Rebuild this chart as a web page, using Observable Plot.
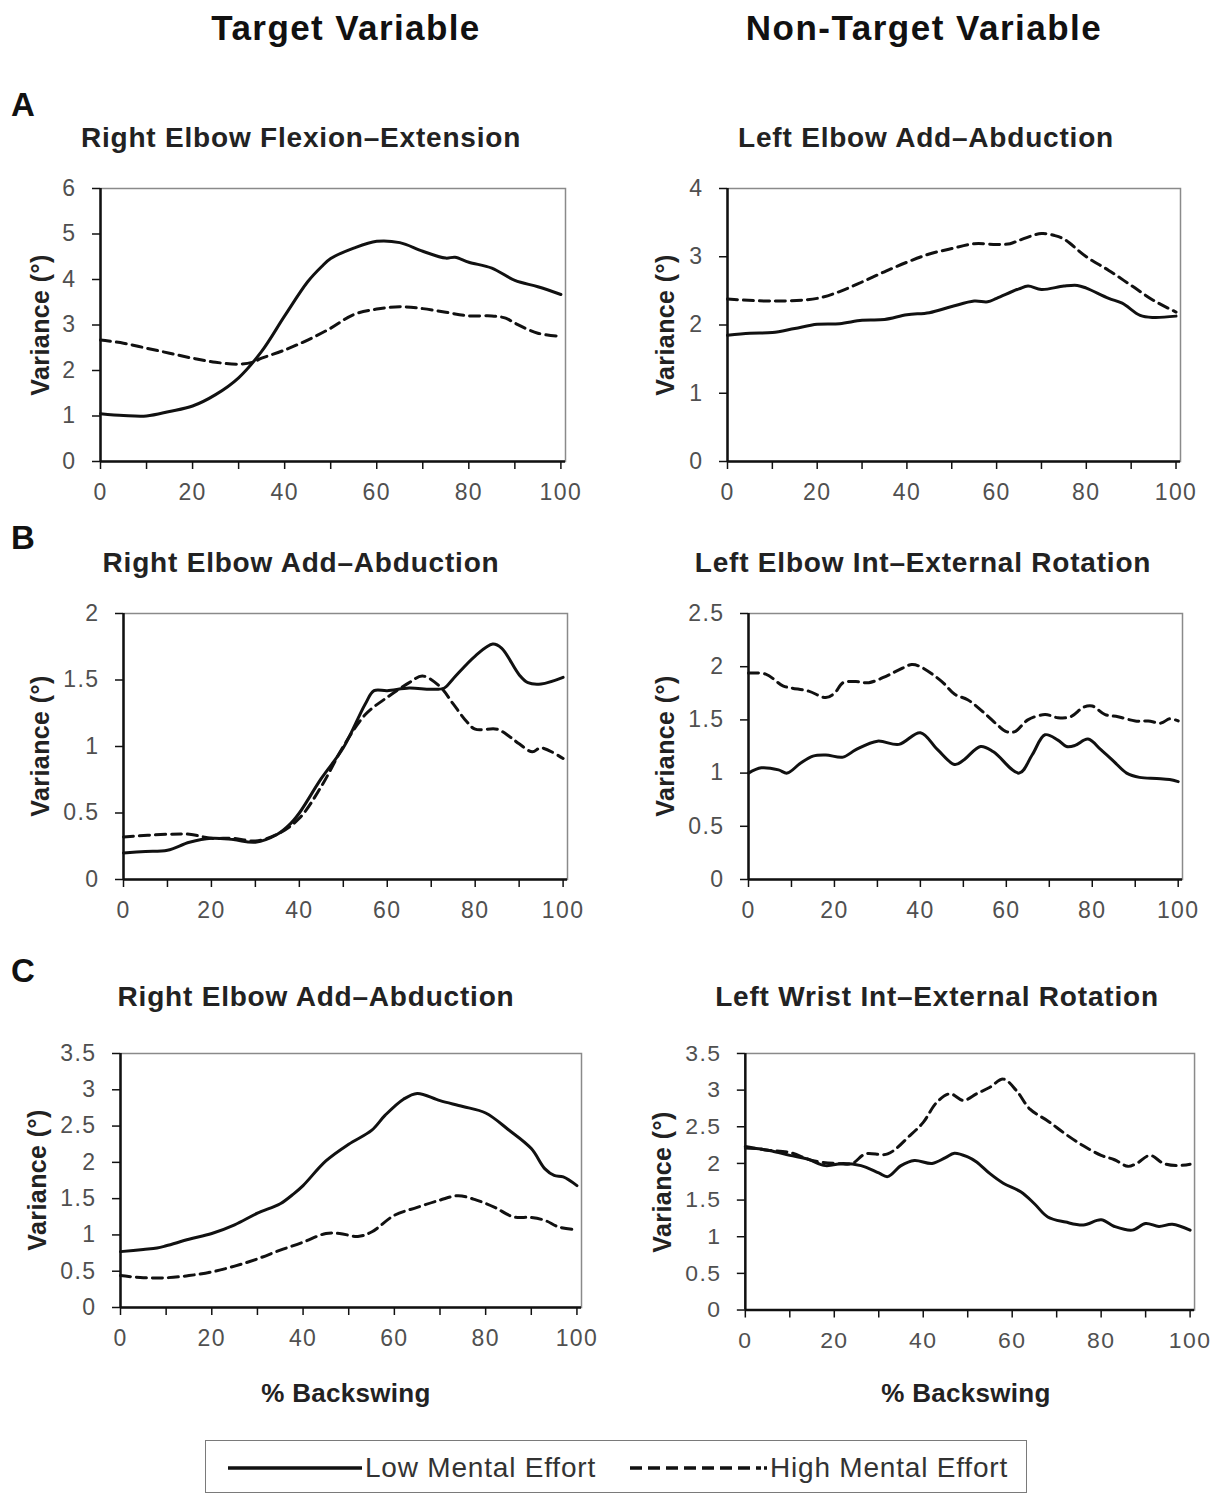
<!DOCTYPE html>
<html>
<head>
<meta charset="utf-8">
<script src="https://cdn.jsdelivr.net/npm/d3@7"></script>
<script src="https://cdn.jsdelivr.net/npm/@observablehq/plot@0.6"></script>
<style>
  html, body { margin: 0; padding: 0; background: #fff; }
  #root { position: relative; width: 1224px; height: 1494px; overflow: hidden; font-family: "Liberation Sans", Arial, sans-serif; color: #222; }
  .t { position: absolute; white-space: nowrap; line-height: 1; }
  .c { transform: translate(-50%, -50%); }
  .l { transform: translate(0, -50%); }
  .b { font-weight: bold; }
  .panel { position: absolute; }
</style>
</head>
<body>
<div id="root"></div>
<script>
// ---------- data ----------
// Panel A, Target: Right Elbow Flexion–Extension
const xA1low  = [0,5,10,15,20,25,30,35,40,45,48,50,55,60,65,70,75,77,80,85,90,95,100];
const yA1low  = [1.05,1.01,1.0,1.1,1.22,1.47,1.84,2.42,3.2,3.95,4.28,4.46,4.69,4.84,4.81,4.62,4.47,4.49,4.38,4.25,3.98,3.84,3.67];
const xA1high = [0,5,10,15,20,25,30,33,35,40,45,50,55,60,65,70,75,80,85,88,90,95,100];
const yA1high = [2.67,2.6,2.49,2.38,2.27,2.18,2.14,2.18,2.27,2.45,2.67,2.93,3.23,3.35,3.4,3.36,3.28,3.2,3.2,3.15,3.04,2.82,2.75];
// Panel A, Non-target: Left Elbow Add–Abduction
const xA2low  = [0,5,10,15,20,25,30,35,40,45,50,55,58,60,65,67,70,75,78,80,85,88,92,95,100];
const yA2low  = [1.85,1.88,1.89,1.95,2.01,2.02,2.07,2.08,2.15,2.18,2.27,2.35,2.34,2.39,2.53,2.57,2.52,2.57,2.58,2.54,2.39,2.32,2.14,2.11,2.13];
const xA2high = [0,10,20,25,30,35,40,45,50,55,60,63,65,70,73,75,80,85,90,95,100];
const yA2high = [2.38,2.35,2.39,2.49,2.63,2.78,2.92,3.04,3.12,3.19,3.18,3.19,3.24,3.34,3.31,3.26,3.0,2.8,2.58,2.36,2.19];
// Panel B, Target: Right Elbow Add–Abduction
const xB1low  = [0,5,10,15,20,25,30,35,38,40,45,50,55,57,60,65,70,73,75,80,84,86,90,92,95,100];
const yB1low  = [0.2,0.21,0.22,0.28,0.31,0.3,0.28,0.34,0.42,0.5,0.76,0.99,1.32,1.42,1.42,1.44,1.43,1.44,1.51,1.68,1.77,1.74,1.54,1.48,1.47,1.52];
const xB1high = [0,10,15,20,25,30,35,40,45,50,55,60,65,68,72,75,78,80,85,88,90,93,95,100];
const yB1high = [0.32,0.34,0.34,0.31,0.31,0.29,0.34,0.46,0.7,1.0,1.24,1.37,1.48,1.53,1.45,1.32,1.19,1.13,1.13,1.07,1.02,0.96,0.99,0.91];
// Panel B, Non-target: Left Elbow Int–External Rotation
const xB2low  = [0,3,7,9,12,15,18,22,25,30,35,40,44,48,50,54,57,63,66,69,72,74,76,79,82,85,88,91,95,98,100];
const yB2low  = [1.0,1.05,1.03,1.0,1.09,1.16,1.17,1.15,1.22,1.3,1.27,1.38,1.22,1.08,1.12,1.25,1.2,1.0,1.17,1.36,1.31,1.25,1.26,1.32,1.22,1.11,1.0,0.96,0.95,0.94,0.92];
const xB2high = [0,4,8,10,14,18,20,22,25,28,32,35,38,40,45,48,51,55,58,60,62,65,69,72,75,78,80,83,86,90,93,96,98,100];
const yB2high = [1.94,1.93,1.82,1.8,1.77,1.71,1.75,1.85,1.86,1.85,1.91,1.97,2.02,2.0,1.86,1.74,1.69,1.56,1.45,1.39,1.39,1.5,1.55,1.52,1.53,1.62,1.63,1.55,1.53,1.49,1.49,1.47,1.51,1.49];
// Panel C, Target: Right Elbow Add–Abduction
const xC1low  = [0,5,8,10,15,20,25,30,35,38,40,45,50,55,58,62,65,70,75,80,85,90,93,95,97,100];
const yC1low  = [0.77,0.8,0.82,0.85,0.94,1.02,1.14,1.3,1.43,1.57,1.68,2.02,2.25,2.44,2.65,2.87,2.95,2.85,2.77,2.68,2.45,2.19,1.91,1.82,1.8,1.68];
const xC1high = [0,5,10,15,20,25,30,35,40,45,48,52,55,60,65,70,74,78,82,86,90,93,96,100];
const yC1high = [0.44,0.41,0.41,0.44,0.49,0.57,0.67,0.79,0.9,1.02,1.02,0.98,1.04,1.27,1.38,1.48,1.54,1.48,1.38,1.25,1.24,1.2,1.11,1.07];
// Panel C, Non-target: Left Wrist Int–External Rotation
const xC2low  = [0,3,6,10,14,18,22,26,30,32,35,38,42,45,47,50,52,55,58,62,65,68,72,76,80,83,87,90,93,96,100];
const yC2low  = [2.21,2.2,2.17,2.11,2.06,1.97,2.0,1.97,1.87,1.82,1.97,2.04,2.0,2.08,2.14,2.09,2.02,1.86,1.73,1.61,1.45,1.27,1.2,1.16,1.23,1.14,1.09,1.18,1.14,1.17,1.09];
const xC2high = [0,5,10,15,20,24,27,32,37,40,43,46,49,52,55,58,61,64,68,72,76,80,83,86,88,91,94,97,100];
const yC2high = [2.23,2.18,2.15,2.04,2.0,2.0,2.13,2.13,2.38,2.56,2.83,2.95,2.86,2.95,3.04,3.15,2.99,2.74,2.58,2.4,2.24,2.11,2.05,1.96,2.0,2.11,2.0,1.97,1.99];

const columnTitles = ["Target Variable", "Non-Target Variable"];
const rowLetters = ["A", "B", "C"];
const panelTitles = ["Right Elbow Flexion–Extension", "Left Elbow Add–Abduction",
                     "Right Elbow Add–Abduction", "Left Elbow Int–External Rotation",
                     "Right Elbow Add–Abduction", "Left Wrist Int–External Rotation"];
const yTicksA1 = [0,1,2,3,4,5,6];
const yTicksA2 = [0,1,2,3,4];
const yTicksB1 = [0,0.5,1,1.5,2];
const yTicksB2 = [0,0.5,1,1.5,2,2.5];
const yTicksC  = [0,0.5,1,1.5,2,2.5,3,3.5];
const xTicks = [0,10,20,30,40,50,60,70,80,90,100];
const yLabel = "Variance (°)";
const xLabel = "% Backswing";
const seriesNames = ["Low Mental Effort", "High Mental Effort"];

// ---------- layout ----------
const FONT = '"Liberation Sans", Arial, sans-serif';
const root = document.getElementById("root");
function text(str, x, y, size, cls, extra) {
  const d = document.createElement("div");
  d.className = "t " + cls;
  d.textContent = str;
  d.style.left = x + "px"; d.style.top = y + "px"; d.style.fontSize = size + "px";
  if (extra) Object.assign(d.style, extra);
  root.appendChild(d);
  return d;
}
const pts = (xs, ys) => xs.map((x, i) => ({x, y: ys[i]}));

const panels = [
  {low: pts(xA1low, yA1low), high: pts(xA1high, yA1high), yt: yTicksA1, x0: 100, x1: 565, top: 188, bottom: 461, title: panelTitles[0], tx: 301, ty: 138, lx: 40},
  {low: pts(xA2low, yA2low), high: pts(xA2high, yA2high), yt: yTicksA2, x0: 727, x1: 1180, top: 188, bottom: 461, title: panelTitles[1], tx: 926, ty: 138, lx: 665},
  {low: pts(xB1low, yB1low), high: pts(xB1high, yB1high), yt: yTicksB1, x0: 123, x1: 567, top: 613, bottom: 879, title: panelTitles[2], tx: 301, ty: 563, lx: 40},
  {low: pts(xB2low, yB2low), high: pts(xB2high, yB2high), yt: yTicksB2, x0: 748, x1: 1182, top: 613, bottom: 879, title: panelTitles[3], tx: 923, ty: 563, lx: 665},
  {low: pts(xC1low, yC1low), high: pts(xC1high, yC1high), yt: yTicksC, x0: 120, x1: 581, top: 1053, bottom: 1307, title: panelTitles[4], tx: 316, ty: 997, lx: 37},
  {low: pts(xC2low, yC2low), high: pts(xC2high, yC2high), yt: yTicksC, x0: 745, x1: 1195, top: 1053, bottom: 1310, title: panelTitles[5], tx: 937, ty: 997, lx: 662}
];

const mL = 100, mR = 30, mT = 15, mB = 50;
panels.forEach(p => {
  const ymax = p.yt[p.yt.length - 1];
  const chart = Plot.plot({
    width: p.x1 - p.x0 + mL + mR,
    height: p.bottom - p.top + mT + mB,
    marginLeft: mL, marginRight: mR, marginTop: mT, marginBottom: mB,
    style: {fontFamily: FONT, fontSize: "23px", letterSpacing: "1.4px", background: "transparent", overflow: "visible", color: "#505050"},
    x: {domain: [0, 101]},
    y: {domain: [0, ymax]},
    marks: [
      Plot.frame({stroke: "#8a8a8a", strokeWidth: 1.5}),
      Plot.axisX({ticks: xTicks, tickFormat: d => d % 20 === 0 ? String(d) : "", tickSize: 8, tickPadding: 14, stroke: "#111", strokeWidth: 1.5, color: "#505050", label: null}),
      Plot.axisY({ticks: p.yt, tickFormat: d => String(d), tickSize: 8, tickPadding: 16, stroke: "#111", strokeWidth: 1.5, color: "#505050", label: null}),
      Plot.ruleX([0], {stroke: "#111", strokeWidth: 2.5}),
      Plot.ruleY([0], {stroke: "#111", strokeWidth: 2.5}),
      Plot.line(p.high, {x: "x", y: "y", stroke: "#111", strokeWidth: 3, strokeDasharray: "10,6", curve: "catmull-rom"}),
      Plot.line(p.low, {x: "x", y: "y", stroke: "#111", strokeWidth: 3, curve: "catmull-rom"})
    ]
  });
  const wrap = document.createElement("div");
  wrap.className = "panel";
  wrap.style.left = (p.x0 - mL) + "px";
  wrap.style.top = (p.top - mT) + "px";
  wrap.appendChild(chart);
  root.appendChild(wrap);

  text(p.title, p.tx, p.ty, 28, "c b", {color: "#222", letterSpacing: "0.8px"});
  text(yLabel, p.lx, (p.top + p.bottom) / 2, 25, "c b", {transform: "translate(-50%, -50%) rotate(-90deg)", color: "#222", letterSpacing: "0.4px"});
});

// column headers, row letters
text(columnTitles[0], 346, 27, 35, "c b", {color: "#111", letterSpacing: "1.4px"});
text(columnTitles[1], 924, 27, 35, "c b", {color: "#111", letterSpacing: "1.5px"});
text(rowLetters[0], 11, 104, 33, "l b", {color: "#111"});
text(rowLetters[1], 11, 537, 33, "l b", {color: "#111"});
text(rowLetters[2], 11, 970, 33, "l b", {color: "#111"});
// x-axis titles
text(xLabel, 346, 1393, 26, "c b", {color: "#222", letterSpacing: "0.3px"});
text(xLabel, 966, 1393, 26, "c b", {color: "#222", letterSpacing: "0.3px"});

// legend
const box = document.createElement("div");
Object.assign(box.style, {position: "absolute", left: "205px", top: "1440px", width: "822px", height: "53px", border: "1.5px solid #7a7a7a", boxSizing: "border-box"});
root.appendChild(box);
const svgNS = "http://www.w3.org/2000/svg";
const lg = document.createElementNS(svgNS, "svg");
lg.setAttribute("width", 1224); lg.setAttribute("height", 1494);
Object.assign(lg.style, {position: "absolute", left: "0", top: "0", pointerEvents: "none"});
function seg(x1, x2, y, dash) {
  const l = document.createElementNS(svgNS, "line");
  l.setAttribute("x1", x1); l.setAttribute("x2", x2); l.setAttribute("y1", y); l.setAttribute("y2", y);
  l.setAttribute("stroke", "#111"); l.setAttribute("stroke-width", 3.5);
  if (dash) l.setAttribute("stroke-dasharray", dash);
  lg.appendChild(l);
}
seg(228, 362, 1468, null);
seg(630, 761, 1468, "12,6");
seg(764, 767, 1468, null);
root.appendChild(lg);
text(seriesNames[0], 365, 1468, 28, "l", {color: "#333", letterSpacing: "0.8px"});
text(seriesNames[1], 770, 1468, 28, "l", {color: "#333", letterSpacing: "0.8px"});
</script>
</body>
</html>
